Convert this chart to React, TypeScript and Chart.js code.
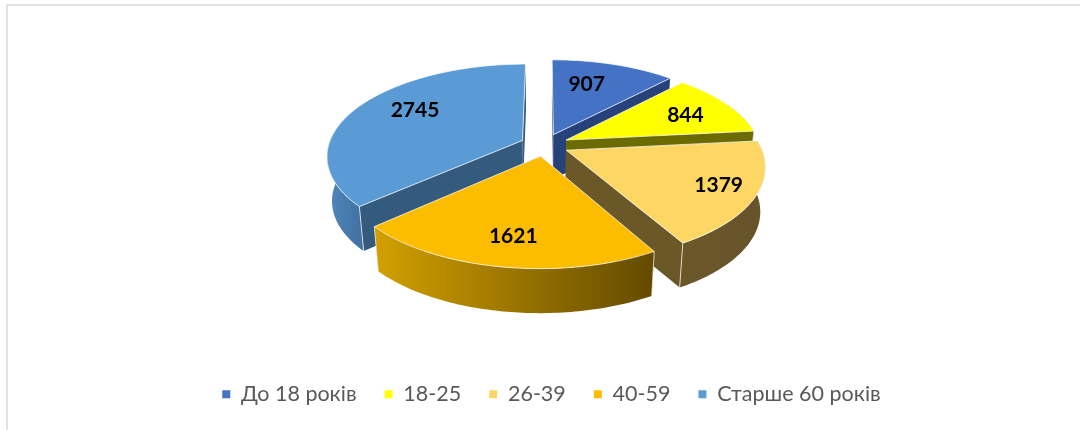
import React, { useEffect, useRef } from "react";
import { Chart, registerables } from "chart.js";

Chart.register(...registerables);

const categories = ["До 18 років", "18-25", "26-39", "40-59", "Старше 60 років"];
const values = [907, 844, 1379, 1621, 2745];
const topColors = ["#4472c4", "#ffff00", "#fdd663", "#fcbc00", "#5b9bd5"];
const faceColors = ["#27417a", "#6b6b00", "#6b5829", "#664d00", "#345a7e"];
const rimFrom = ["#27417a", "#6b6b00", "#6b5829", "#d2a000", "#5088be"];
const rimTo = ["#27417a", "#6b6b00", "#66532a", "#634a00", "#3f6f9f"];
const labelFractions = [0.397, 0.54, 0.486, 0.496, 0.555];
const labelRadii = [0.664, 0.721, 0.81, 0.76, 0.7];
const paintOrder = [0, 4, 1, 2, 3];

const CX = 544.5, CY = 145, A = 194, B = 90.1, K = 0.1615;
const EXPLODE = 0.125, DEPTH = 44.5, SHRINK = 0.977;
const RIM_MIN = (-25 * Math.PI) / 180, RIM_MAX = (205 * Math.PI) / 180;

type P = [number, number];
const project = (u: number, v: number): P => {
  const w = 1 - K * v;
  return [CX + (A * u) / w, CY + (B * v) / w];
};
const lower = (p: P): P => [CX + (p[0] - CX) * SHRINK, p[1] + DEPTH];

function sliceGeom(el: any) {
  const { startAngle, endAngle } = el.getProps(["startAngle", "endAngle"], true);
  const mid = (startAngle + endAngle) / 2;
  const ax = Math.cos(mid) * EXPLODE;
  const ay = Math.sin(mid) * EXPLODE;
  const at = (theta: number, r = 1): P =>
    project(ax + Math.cos(theta) * r, ay + Math.sin(theta) * r);
  return { startAngle, endAngle, apex: project(ax, ay), at };
}

function arcPoints(at: (t: number) => P, from: number, to: number): P[] {
  const n = Math.max(2, Math.ceil(((to - from) * 180) / Math.PI));
  const pts: P[] = [];
  for (let i = 0; i <= n; i++) pts.push(at(from + ((to - from) * i) / n));
  return pts;
}

function fillPoly(ctx: CanvasRenderingContext2D, pts: P[], fill: any) {
  ctx.beginPath();
  pts.forEach((p, i) => (i ? ctx.lineTo(p[0], p[1]) : ctx.moveTo(p[0], p[1])));
  ctx.closePath();
  ctx.fillStyle = fill;
  ctx.fill();
}

const pie3d = {
  id: "pie3d",
  beforeDatasetDraw(chart: any, args: any) {
    const ctx: CanvasRenderingContext2D = chart.ctx;
    const arcs = args.meta.data;
    const edge = "rgba(255,255,255,0.72)";
    ctx.save();
    ctx.lineJoin = "round";
    paintOrder.forEach((i) => {
      const g = sliceGeom(arcs[i]);
      const { apex, at, startAngle, endAngle } = g;
      const a = at(startAngle), b = at(endAngle);
      // cut faces
      fillPoly(ctx, [apex, a, lower(a), lower(apex)], faceColors[i]);
      fillPoly(ctx, [apex, b, lower(b), lower(apex)], faceColors[i]);
      // outer wall
      const from = Math.max(startAngle, RIM_MIN);
      const to = Math.min(endAngle, RIM_MAX);
      const seams: P[] = [];
      if (to > from) {
        const rim = arcPoints(at, from, to);
        const poly = rim.concat(rim.map(lower).reverse());
        const xs = poly.map((p) => p[0]);
        const grad = ctx.createLinearGradient(Math.min(...xs), 0, Math.max(...xs), 0);
        grad.addColorStop(0, rimFrom[i]);
        grad.addColorStop(1, rimTo[i]);
        fillPoly(ctx, poly, grad);
        if (from === startAngle && startAngle > 0) seams.push(rim[0]);
        if (to === endAngle && endAngle < Math.PI) seams.push(rim[rim.length - 1]);
      }
      // top
      const top = [apex, ...arcPoints(at, startAngle, endAngle)];
      fillPoly(ctx, top, topColors[i]);
      ctx.strokeStyle = edge;
      ctx.lineWidth = 1;
      ctx.stroke();
      seams.forEach((p) => {
        const q = lower(p);
        ctx.beginPath();
        ctx.moveTo(p[0], p[1]);
        ctx.lineTo(q[0], q[1]);
        ctx.stroke();
      });
    });
    ctx.restore();
    return false;
  },
  afterDatasetsDraw(chart: any) {
    const ctx: CanvasRenderingContext2D = chart.ctx;
    const arcs = chart.getDatasetMeta(0).data;
    ctx.save();
    ctx.font = "bold 21px Lato";
    ctx.fillStyle = "#000000";
    ctx.textAlign = "center";
    ctx.textBaseline = "middle";
    values.forEach((v, i) => {
      const g = sliceGeom(arcs[i]);
      const t = g.startAngle + (g.endAngle - g.startAngle) * labelFractions[i];
      const p = g.at(t, labelRadii[i]);
      ctx.fillText(String(v), p[0], p[1]);
    });
    ctx.restore();
  },
};

export default function App() {
  const ref = useRef<HTMLCanvasElement>(null);
  useEffect(() => {
    document.body.style.margin = "0";
    document.body.style.background = "#ffffff";
    const chart = new Chart(ref.current!, {
      type: "pie",
      data: {
        labels: categories,
        datasets: [{ data: values, backgroundColor: topColors, borderWidth: 0 }],
      },
      options: {
        responsive: false,
        animation: false,
        devicePixelRatio: 1,
        layout: { padding: { left: 23, bottom: 15, top: 0, right: 0 } },
        plugins: {
          tooltip: { enabled: false },
          legend: {
            position: "bottom",
            labels: {
              usePointStyle: true,
              pointStyle: "rect",
              boxHeight: 8,
              pointStyleWidth: 8,
              padding: 28,
              color: "#595959",
              font: { family: "Lato", size: 21.5 },
            },
          },
        },
      } as any,
      plugins: [pie3d as any],
    });
    return () => chart.destroy();
  }, []);
  return (
    <div style={{ position: "relative", width: 1080, height: 430, overflow: "hidden" }}>
      <div
        style={{
          position: "absolute",
          left: 6,
          top: 4,
          right: 0,
          bottom: 0,
          borderLeft: "2px solid #e2e2e2",
          borderTop: "2px solid #e2e2e2",
        }}
      />
      <canvas
        ref={ref}
        width={1080}
        height={430}
        style={{ position: "absolute", left: 0, top: 0, display: "block" }}
      />
    </div>
  );
}
